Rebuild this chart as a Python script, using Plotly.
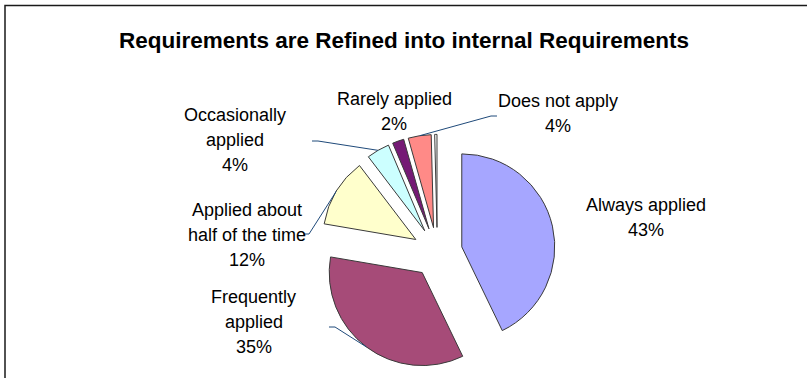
import math
import plotly.graph_objects as go

# Survey answers (percent of respondents)
categories = [
    "Always applied",
    "Frequently applied",
    "Applied about half of the time",
    "Occasionally applied",
    "Rarely applied",
    "Does not apply",
    "No response",
]
values = [43, 35, 12, 4, 2, 4, 0.4]
label_lines = [
    ["Always applied"],
    ["Frequently", "applied"],
    ["Applied about", "half of the time"],
    ["Occasionally", "applied"],
    ["Rarely applied"],
    ["Does not apply"],
    None,
]
colors = ["#A6A6FF", "#A64B78", "#FFFFCC", "#CCFFFF", "#751A75", "#FF8A87", "#FFFFFF"]

title_text = "Requirements are Refined into internal Requirements"

W, H = 807, 378
PIE_CX, PIE_CY, PIE_R = 437.3, 252.5, 93.0
PULL = 0.27
LINE_GAP = 25  # px between label lines

# label block centres (px) and whether a leader line is drawn
label_pos = [
    (646, 217.5, False),
    (254, 322, True),
    (247, 235, True),
    (235, 140, True),
    (394, 111, False),
    (558, 113.5, True),
    None,
]
# where the leader line leaves each label (px)
leader_start = [None, (329, 327), (303, 234), (312, 141), None, (497, 116), None]

LEADER = "#1F4A7A"
FONT = "Liberation Sans, Arial, sans-serif"


def px(x, y):
    return x / W, 1 - y / H


box = 2 * PIE_R * (1 + PULL)
dom_x = [(PIE_CX - box) / W, (PIE_CX + box) / W]
dom_y = [1 - (PIE_CY + box / 2) / H, 1 - (PIE_CY - box / 2) / H]

fig = go.Figure(
    go.Pie(
        labels=categories,
        values=values,
        sort=False,
        direction="clockwise",
        rotation=0,
        pull=[PULL] * len(values),
        marker=dict(colors=colors, line=dict(color="#3A3A3A", width=1)),
        textinfo="none",
        hoverinfo="label+percent",
        domain=dict(x=dom_x, y=dom_y),
    )
)

total = sum(values)
annotations = []
shapes = []
cum = 0.0
for i, v in enumerate(values):
    a0 = cum / total * 360
    cum += v
    a1 = cum / total * 360
    if label_lines[i] is None:
        continue
    pct = f"{round(v / total * 100)}%"
    lines = label_lines[i] + [pct]
    lx, ly, has_leader = label_pos[i]
    n = len(lines)
    for k, t in enumerate(lines):
        yy = ly + (k - (n - 1) / 2) * LINE_GAP
        xx, yy = px(lx, yy)
        annotations.append(dict(
            x=xx, y=yy, xref="paper", yref="paper", text=t, showarrow=False,
            xanchor="center", yanchor="middle",
            font=dict(family=FONT, size=18, color="#000000"),
        ))
    if has_leader:
        mid = math.radians((a0 + a1) / 2)
        dx, dy = math.sin(mid), -math.cos(mid)
        off = PULL * PIE_R
        ex = PIE_CX + dx * (off + PIE_R)
        ey = PIE_CY + dy * (off + PIE_R)
        sx, sy = leader_start[i]
        step = 6 if ex > sx else -6
        pts = [(sx, sy), (sx + step, sy), (ex, ey)]
        path = "M " + " L ".join(f"{px(x, y)[0]:.5f},{px(x, y)[1]:.5f}" for x, y in pts)
        shapes.append(dict(type="path", xref="paper", yref="paper", path=path,
                           line=dict(color=LEADER, width=1)))

# chart frame
fx0, fy0 = px(5, 5.5)
shapes.append(dict(type="rect", xref="paper", yref="paper",
                   x0=fx0, y0=-0.05, x1=1.05, y1=fy0,
                   line=dict(color="#1A1A1A", width=1.5)))

tx, ty = px(404, 40)
fig.update_layout(
    width=W, height=H,
    margin=dict(l=0, r=0, t=0, b=0),
    paper_bgcolor="#FFFFFF",
    showlegend=False,
    title=dict(text=f"<b>{title_text}</b>", x=tx, y=ty, xanchor="center", yanchor="middle",
               font=dict(family=FONT, size=22.5, color="#000000")),
    annotations=annotations,
    shapes=shapes,
)

fig.write_html("out.html")
